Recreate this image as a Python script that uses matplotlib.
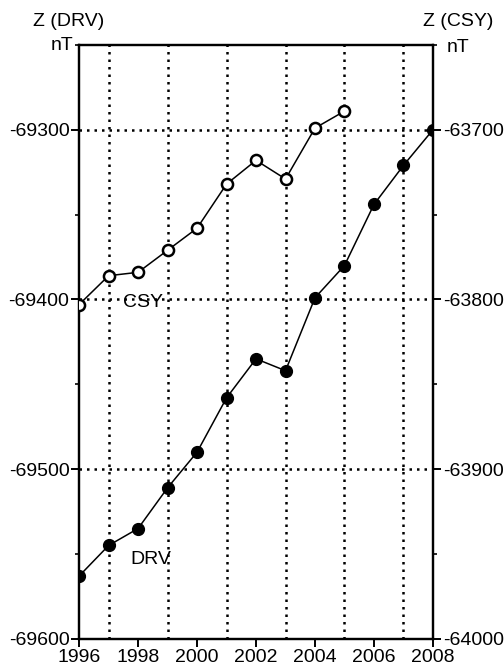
import numpy as np
import matplotlib.pyplot as plt
from matplotlib.ticker import MultipleLocator

plt.rcParams['font.family'] = ['Liberation Sans', 'DejaVu Sans']

# Data
drv_years = np.arange(1996, 2009)
drv_z = [-69563, -69545, -69535, -69511, -69490, -69458, -69435,
         -69442, -69399, -69380, -69344, -69321, -69300]

csy_years = np.arange(1996, 2006)
csy_z = [-63803, -63786, -63784, -63771, -63758, -63732, -63718,
         -63729, -63699, -63689]

fs = 14

fig = plt.figure(figsize=(5.04, 6.71), dpi=100)
ax = fig.add_axes([0.157, 0.048, 0.702, 0.885])
ax2 = ax.twinx()

dots = (0, (1.0, 2.0))

# DRV on left axis
ax.plot(drv_years, drv_z, 'k-', lw=1.1, marker='o', ms=8.5,
        mfc='black', mec='black', zorder=3)
ax.set_xlim(1996, 2008)
ax.xaxis.set_major_locator(MultipleLocator(2))
ax.xaxis.set_minor_locator(MultipleLocator(1))
ax.yaxis.set_minor_locator(MultipleLocator(50))
ax.set_yticks([-69600, -69500, -69400, -69300])
ax.set_yticklabels(['-69600', '-69500', '-69400', '-69300'])
ax.set_ylim(-69600, -69250)
ax.grid(which='minor', axis='x', color='black', linestyle=dots, lw=1.8)
ax.grid(which='major', axis='y', color='black', linestyle=dots, lw=1.8)
ax.tick_params(which='major', direction='out', length=6, width=1.4,
               labelsize=fs, pad=1)
ax.tick_params(which='minor', direction='out', length=3, width=1.2)
ax.tick_params(axis='x', which='minor', length=0)

# CSY on right axis
ax2.plot(csy_years, csy_z, 'k-', lw=1.1, marker='o', ms=8,
         mfc='white', mec='black', mew=1.8, zorder=3)
ax2.yaxis.set_minor_locator(MultipleLocator(50))
ax2.set_yticks([-64000, -63900, -63800, -63700])
ax2.set_yticklabels(['-64000', '-63900', '-63800', '-63700'])
ax2.set_ylim(-64000, -63650)
ax2.tick_params(which='major', direction='out', length=6, width=1.4,
                labelsize=fs, pad=1)
ax2.tick_params(which='minor', direction='out', length=3, width=1.2)

for a in (ax, ax2):
    for s in a.spines.values():
        s.set_linewidth(1.6)

# Series labels
ax.text(1997.5, -69402, 'CSY', fontsize=fs, va='center', ha='left')
ax.text(1997.73, -69553, 'DRV', fontsize=fs, va='center', ha='left')

# Axis titles
fig.text(69 / 504, 1 - 21 / 671, 'Z (DRV)', fontsize=fs, ha='center', va='center')
fig.text(73 / 504, 1 - 46 / 671, 'nT', fontsize=fs, ha='right', va='center')
fig.text(458 / 504, 1 - 22 / 671, 'Z (CSY)', fontsize=fs, ha='center', va='center')
fig.text(447 / 504, 1 - 47 / 671, 'nT', fontsize=fs, ha='left', va='center')

plt.savefig('out.png', dpi=100)
